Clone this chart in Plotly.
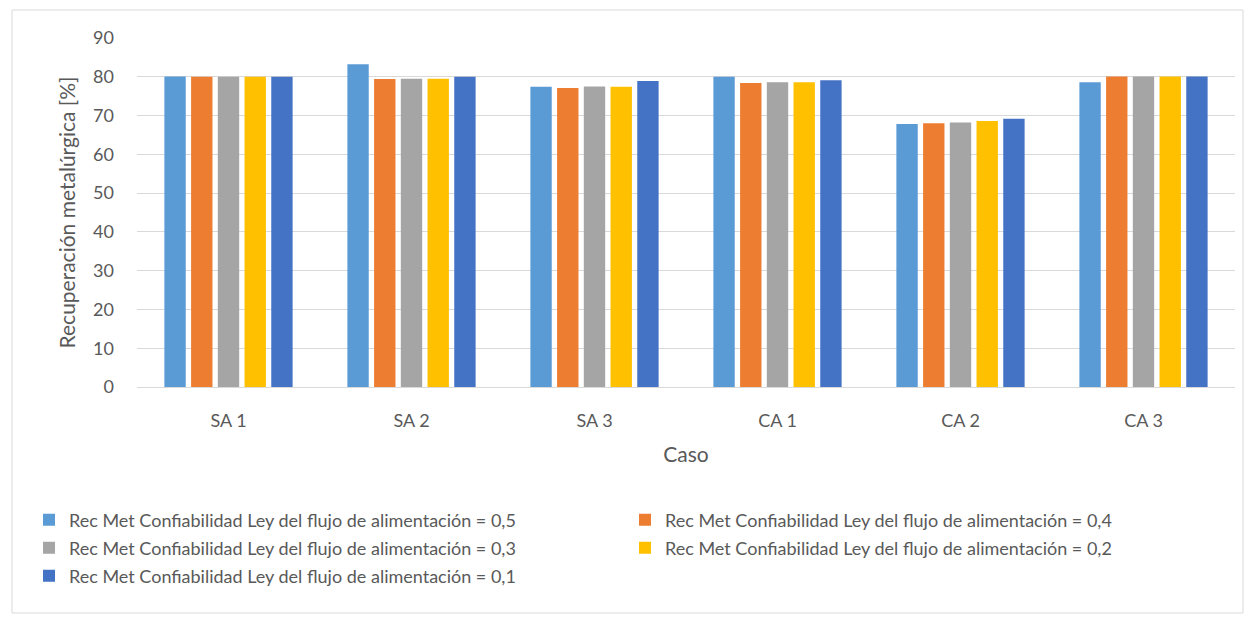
import plotly.graph_objects as go

categories = ["SA 1", "SA 2", "SA 3", "CA 1", "CA 2", "CA 3"]
series_names = [
    "Rec Met Confiabilidad Ley del flujo de alimentación = 0,5",
    "Rec Met Confiabilidad Ley del flujo de alimentación = 0,4",
    "Rec Met Confiabilidad Ley del flujo de alimentación = 0,3",
    "Rec Met Confiabilidad Ley del flujo de alimentación = 0,2",
    "Rec Met Confiabilidad Ley del flujo de alimentación = 0,1",
]
s05 = [80.1, 83.2, 77.4, 80.0, 67.8, 78.6]
s04 = [80.0, 79.4, 77.1, 78.4, 68.0, 80.1]
s03 = [80.0, 79.5, 77.5, 78.6, 68.2, 80.1]
s02 = [80.0, 79.5, 77.4, 78.6, 68.6, 80.1]
s01 = [80.0, 80.0, 78.9, 79.1, 69.2, 80.1]
colors = ["#5B9BD5", "#ED7D31", "#A5A5A5", "#FFC000", "#4472C4"]

W, H = 1251, 623
L, R, T, B = 137, 16, 38, 236
pw, ph = W - L - R, H - T - B

def px_x(p):
    return (p - L) / pw

def px_y(p):
    return (H - B - p) / ph

# legend placement (pixel left edge, pixel row centre) per series
legend_pos = [(29, 520), (625, 520), (29, 548), (625, 548), (29, 576)]
legend_ids = ["legend", "legend2", "legend3", "legend4", "legend5"]

font = "Lato, Liberation Sans, Arial, sans-serif"
txt = "#595959"

fig = go.Figure()
for name, vals, c, lid in zip(series_names, [s05, s04, s03, s02, s01], colors, legend_ids):
    fig.add_trace(go.Bar(x=categories, y=vals, name=name, legend=lid,
                         marker=dict(color=c, line=dict(width=0))))

layout_legends = {}
for lid, (lx, ly) in zip(legend_ids, legend_pos):
    layout_legends[lid] = dict(
        orientation="h", x=px_x(lx), xanchor="left",
        y=px_y(ly), yanchor="middle",
        font=dict(size=18, color=txt, family=font),
        bgcolor="rgba(0,0,0,0)", itemwidth=30,
    )

fig.update_layout(
    width=W, height=H,
    margin=dict(l=L, r=R, t=T, b=B),
    paper_bgcolor="white", plot_bgcolor="white",
    barmode="group", bargap=0.27, bargroupgap=0.2,
    font=dict(family=font, size=18, color=txt),
    xaxis=dict(
        title=dict(text="Caso", font=dict(size=21, color=txt), standoff=17),
        showline=True, linecolor="#D9D9D9", linewidth=1,
        ticks="", tickfont=dict(size=18, color=txt), ticklabelstandoff=17,
    ),
    yaxis=dict(
        title=dict(text="Recuperación metalúrgica [%]", font=dict(size=21, color=txt), standoff=11),
        range=[0, 90], dtick=10, showgrid=True, gridcolor="#D9D9D9", gridwidth=1,
        zeroline=False, showline=False, tickfont=dict(size=18, color=txt),
        ticklabelstandoff=22,
    ),
    showlegend=True,
    **layout_legends,
)
fig.add_shape(
    type="rect", xref="paper", yref="paper",
    x0=px_x(12), x1=px_x(1243),
    y0=px_y(613), y1=px_y(10),
    line=dict(color="#D9D9D9", width=1), fillcolor="rgba(0,0,0,0)", layer="below",
)
fig.write_html(
    "out.html",
    config={"displayModeBar": False},
    post_script="document.body.style.margin='0px';document.body.style.padding='0px';",
)
